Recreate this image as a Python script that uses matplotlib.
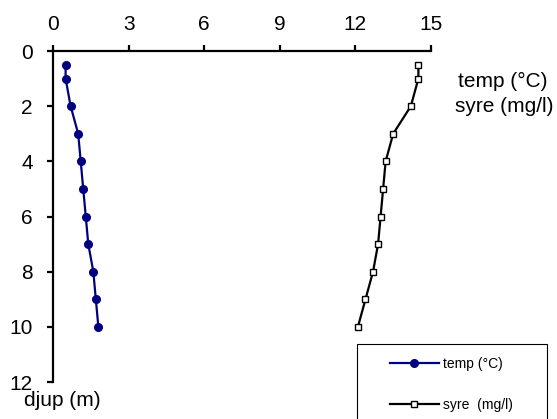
import matplotlib
matplotlib.use("Agg")
import matplotlib.pyplot as plt
from matplotlib.patches import Rectangle

plt.rcParams['font.family'] = ['Liberation Sans', 'DejaVu Sans']

# Depth profile (m) with temperature and dissolved oxygen
depth = [0.5, 1, 2, 3, 4, 5, 6, 7, 8, 9, 10]
temp = [0.5, 0.5, 0.7, 1.0, 1.1, 1.2, 1.3, 1.4, 1.6, 1.7, 1.8]
syre = [14.5, 14.5, 14.2, 13.5, 13.2, 13.1, 13.0, 12.9, 12.7, 12.4, 12.1]

x_ticks = [0, 3, 6, 9, 12, 15]
y_ticks = [0, 2, 4, 6, 8, 10, 12]

W, H = 557, 419
fig = plt.figure(figsize=(W / 100, H / 100), dpi=100)
ax = fig.add_axes([53 / W, 1 - 382 / H, (431 - 53) / W, (382 - 51) / H])

l1, = ax.plot(temp, depth, color='#000080', lw=1.6, marker='o', ms=5.5,
              mfc='#000080', mec='#000080', label='temp (°C)', clip_on=False)
l2, = ax.plot(syre, depth, color='black', lw=1.6, marker='s', ms=5,
              mfc='white', mec='black', mew=1.0, label='syre  (mg/l)', clip_on=False)

ax.set_xlim(0, 15)
ax.set_ylim(12, 0)
ax.set_xticks(x_ticks)
ax.set_yticks(y_ticks)
ax.xaxis.tick_top()
for s in ['right', 'bottom']:
    ax.spines[s].set_visible(False)
for s in ['left', 'top']:
    ax.spines[s].set_linewidth(1.6)
ax.tick_params(axis='both', direction='out', length=4.5, width=1.6,
               labelsize=15, colors='black')
ax.tick_params(axis='y', pad=10)
ax.tick_params(axis='x', pad=8)

fig.text(62 / W, 1 - 400 / H, 'djup (m)', fontsize=15, ha='center', va='center')
fig.text(503 / W, 1 - 81 / H, 'temp (°C)', fontsize=15, ha='center', va='center')
fig.text(504 / W, 1 - 106 / H, 'syre (mg/l)', fontsize=15, ha='center', va='center')

fig.patches.append(Rectangle((357 / W, -0.05), (547 - 357) / W, 0.05 + 1 - 344 / H,
                             transform=fig.transFigure, fill=False,
                             edgecolor='black', lw=0.8))
fig.legend(handles=[l1, l2], loc='upper left', bbox_to_anchor=(390 / W, 1 - 357 / H),
           frameon=False, fontsize=10, borderpad=0, borderaxespad=0,
           handlelength=3.5, handletextpad=0.3, labelspacing=1.95)

fig.savefig('out.png', dpi=100)
